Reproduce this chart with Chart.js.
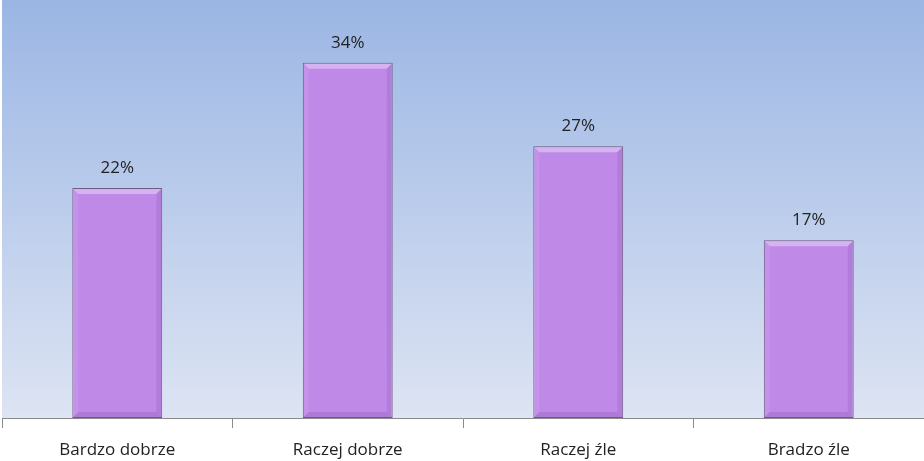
<!DOCTYPE html>
<html>
<head>
<meta charset="utf-8">
<script src="https://cdn.jsdelivr.net/npm/chart.js@4.4.1/dist/chart.umd.min.js"></script>
<style>
  html, body { margin: 0; padding: 0; background: #fff; }
  #wrap { width: 924px; height: 461px; }
</style>
</head>
<body>
<div id="wrap"><canvas id="chart"></canvas></div>
<script>
// Categories, bar heights (percent) and the labels printed above the bars
const categories = ['Bardzo dobrze', 'Raczej dobrze', 'Raczej źle', 'Bradzo źle'];
const values = [22, 34, 26, 17];
const valueLabels = ['22%', '34%', '27%', '17%'];
const yMax = 40;

const FONT = 'Open Sans';

// Background gradient behind the plot area
const bgPlugin = {
  id: 'bgGradient',
  beforeDraw(chart) {
    const { ctx, chartArea } = chart;
    const g = ctx.createLinearGradient(0, chartArea.top, 0, chartArea.bottom);
    g.addColorStop(0, '#9bb6e4');
    g.addColorStop(1, '#dde4f3');
    ctx.save();
    ctx.fillStyle = g;
    ctx.fillRect(chartArea.left, chartArea.top, chartArea.right - chartArea.left, chartArea.bottom - chartArea.top);
    ctx.restore();
  }
};

// Bevel highlight + value labels on top of bars
const barExtras = {
  id: 'barExtras',
  afterDatasetsDraw(chart) {
    const { ctx } = chart;
    const meta = chart.getDatasetMeta(0);
    ctx.save();
    meta.data.forEach((bar, i) => {
      const left = bar.x - bar.width / 2;
      const right = bar.x + bar.width / 2;
      const top = bar.y;
      const bottom = bar.base;
      const b = 6;
      // top bevel
      ctx.fillStyle = 'rgba(255,255,255,0.35)';
      ctx.beginPath();
      ctx.moveTo(left + 1, top + 1);
      ctx.lineTo(right - 1, top + 1);
      ctx.lineTo(right - b, top + b);
      ctx.lineTo(left + b, top + b);
      ctx.closePath();
      ctx.fill();
      // right bevel
      ctx.fillStyle = 'rgba(90,40,120,0.12)';
      ctx.beginPath();
      ctx.moveTo(right - 1, top + 1);
      ctx.lineTo(right - 1, bottom - 1);
      ctx.lineTo(right - b, bottom - b);
      ctx.lineTo(right - b, top + b);
      ctx.closePath();
      ctx.fill();
      // bottom bevel
      ctx.fillStyle = 'rgba(90,40,120,0.15)';
      ctx.beginPath();
      ctx.moveTo(left + 1, bottom - 1);
      ctx.lineTo(right - 1, bottom - 1);
      ctx.lineTo(right - b, bottom - b);
      ctx.lineTo(left + b, bottom - b);
      ctx.closePath();
      ctx.fill();
      // left bevel
      ctx.fillStyle = 'rgba(255,255,255,0.08)';
      ctx.beginPath();
      ctx.moveTo(left + 1, top + 1);
      ctx.lineTo(left + 1, bottom - 1);
      ctx.lineTo(left + b, bottom - b);
      ctx.lineTo(left + b, top + b);
      ctx.closePath();
      ctx.fill();

      ctx.fillStyle = '#222';
      ctx.font = '17px "' + FONT + '"';
      ctx.textAlign = 'center';
      ctx.textBaseline = 'middle';
      ctx.fillText(valueLabels[i], bar.x, top - 20);
    });
    ctx.restore();
  }
};

new Chart(document.getElementById('chart'), {
  type: 'bar',
  data: {
    labels: categories,
    datasets: [{
      data: values,
      backgroundColor: '#bf89e8',
      borderColor: '#6f5a80',
      borderWidth: 1,
      borderSkipped: false,
      categoryPercentage: 1,
      barPercentage: 0.39
    }]
  },
  options: {
    responsive: true,
    maintainAspectRatio: false,
    animation: false,
    layout: { padding: { left: 2, right: 0, top: 0, bottom: 0 } },
    plugins: {
      legend: { display: false },
      tooltip: { enabled: false }
    },
    scales: {
      x: {
        afterFit(scale) { scale.height = 43; },
        grid: {
          offset: true,
          drawOnChartArea: false,
          drawTicks: true,
          tickLength: 10,
          color: '#8a8a8a'
        },
        border: { color: '#8a8a8a', width: 1 },
        ticks: {
          color: '#222',
          padding: 12,
          font: { family: FONT, size: 17 }
        }
      },
      y: {
        display: false,
        min: 0,
        max: yMax
      }
    }
  },
  plugins: [bgPlugin, barExtras]
});
</script>
</body>
</html>
